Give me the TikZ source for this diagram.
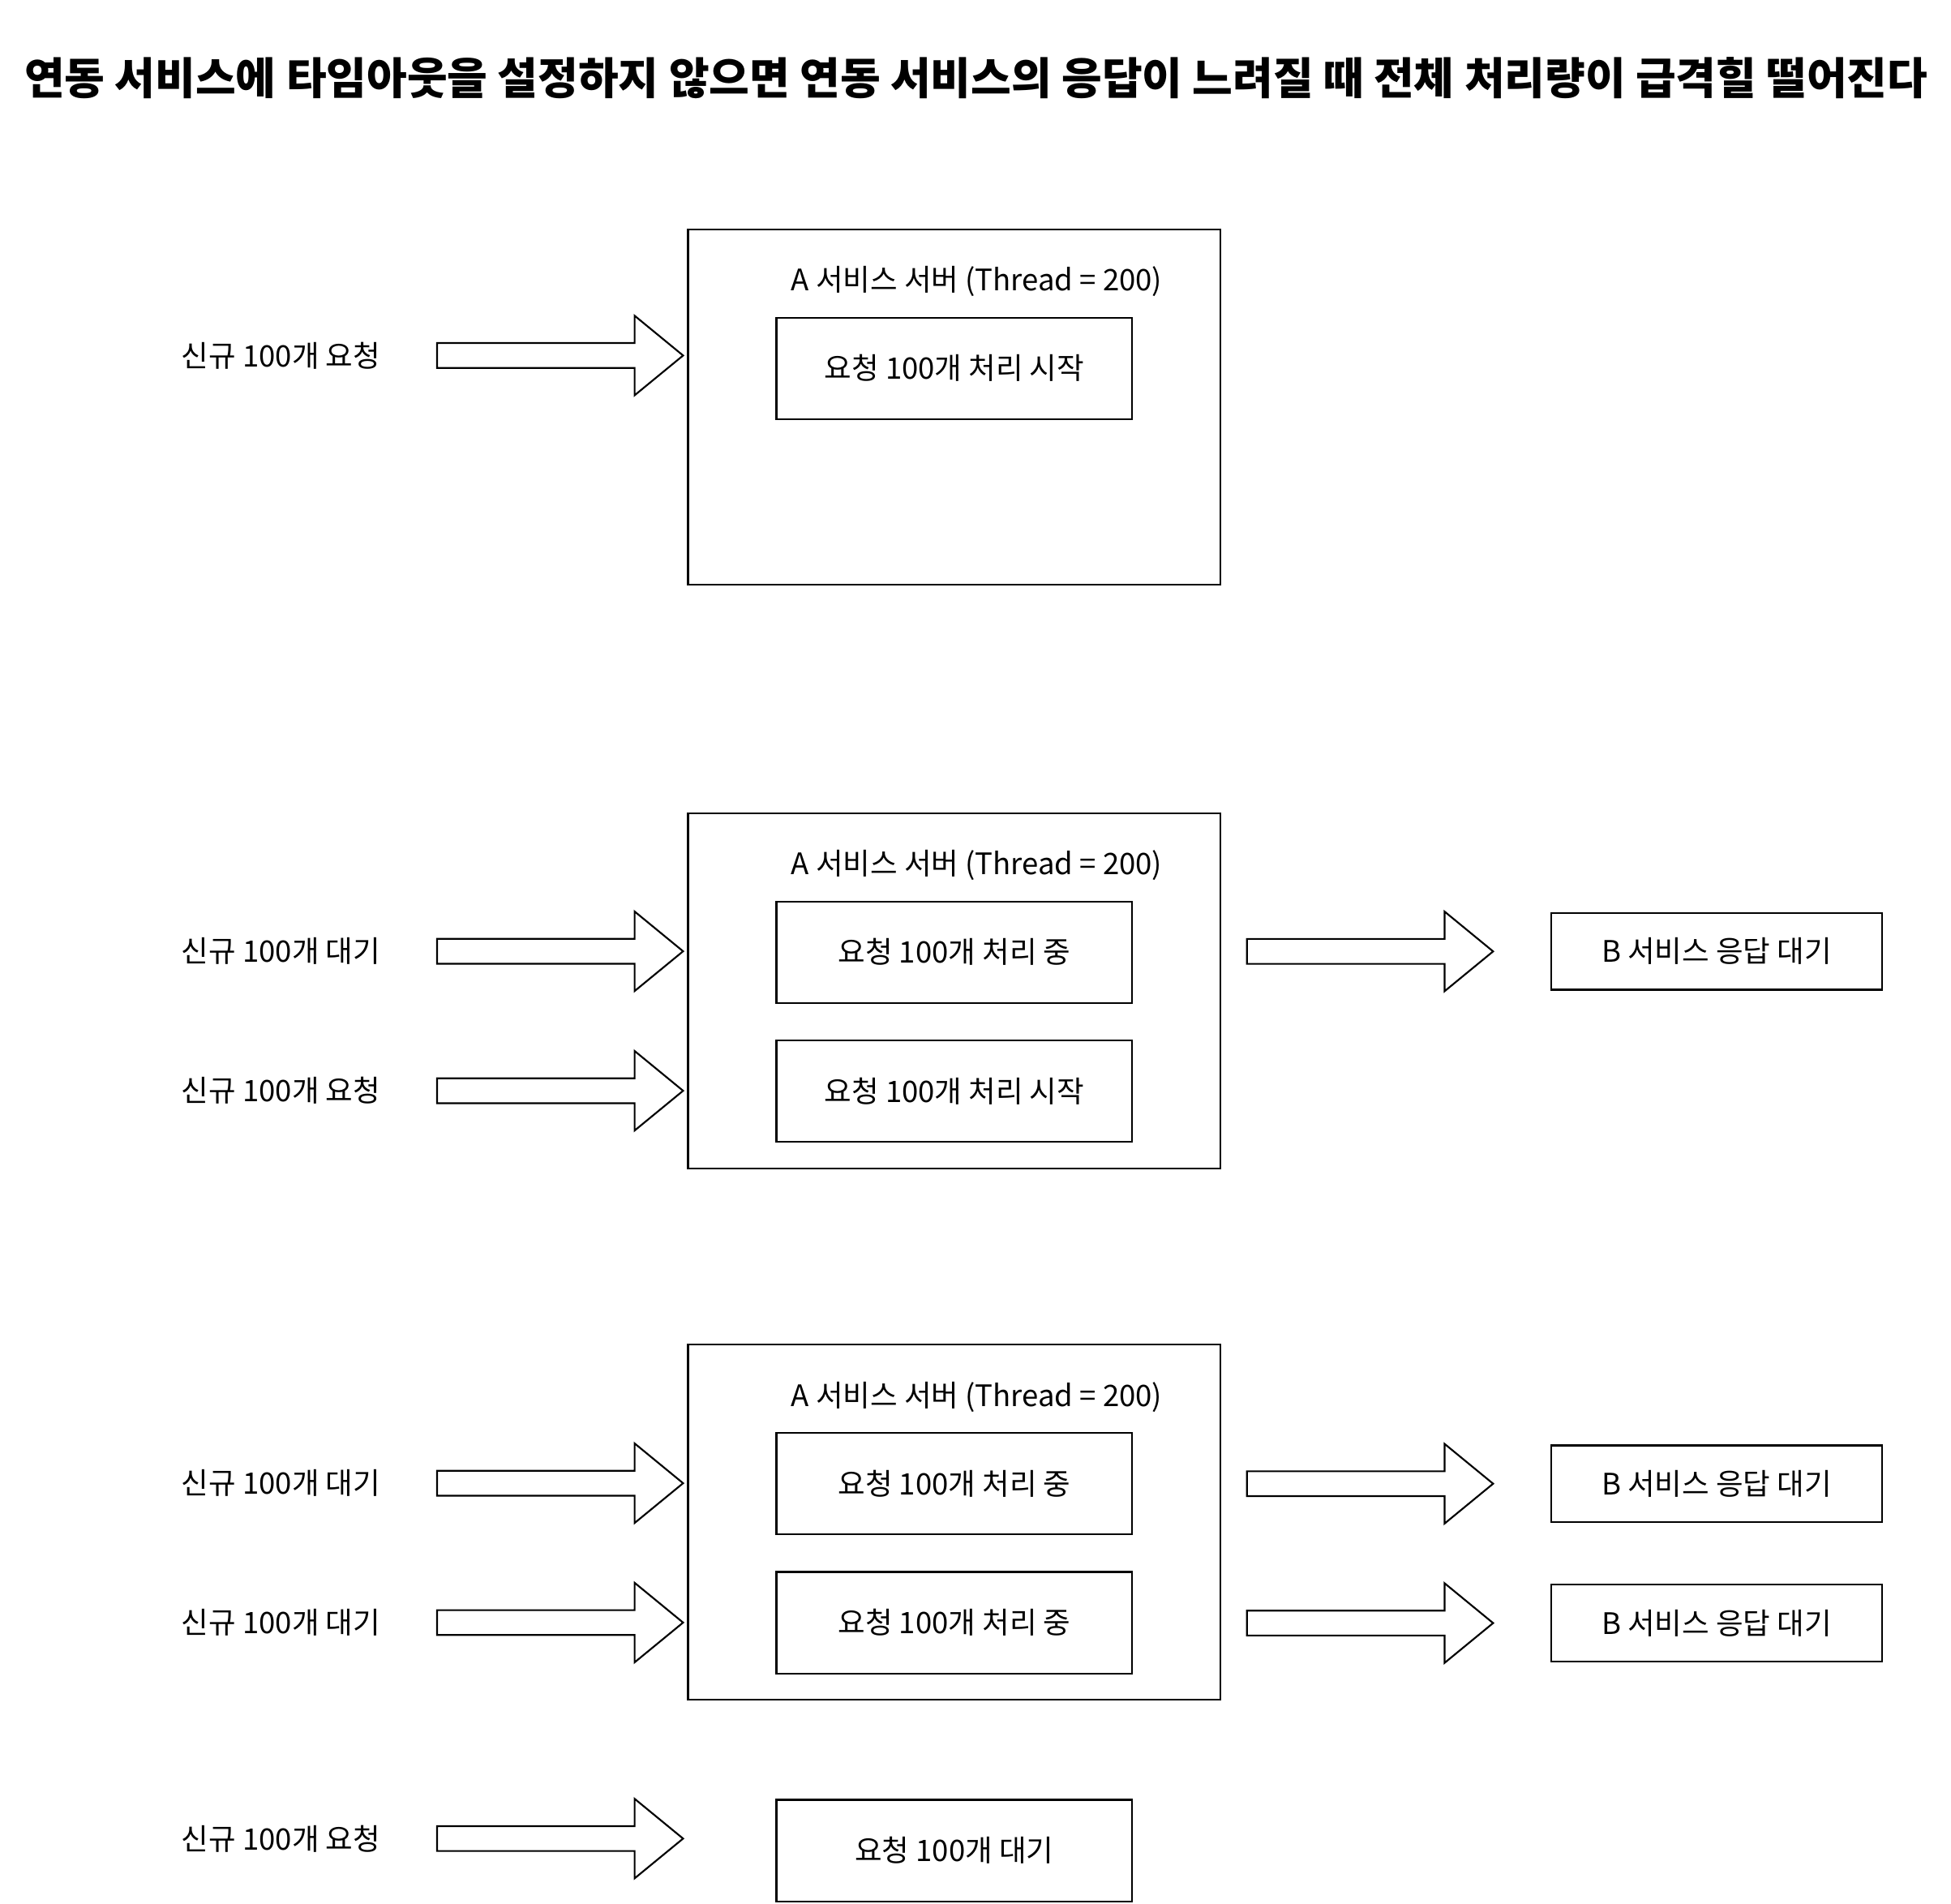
\documentclass[tikz,border=0pt]{standalone}
\usepackage{fontspec}
\setmainfont{Noto Sans CJK KR}
\usetikzlibrary{positioning,calc}

\newcommand{\txtfont}{\fontsize{23.8}{28}\selectfont}
\newcommand{\headfont}{\fontsize{35.2}{41}\selectfont\bfseries}

\tikzset{
  headline/.style={font=\headfont,inner sep=0pt},
  frame/.style={draw,line width=1.4pt,minimum width=428pt,minimum height=285.5pt,inner sep=0pt},
  caption/.style={font=\txtfont,inner sep=0pt},
  job/.style={draw,line width=1.4pt,fill=white,minimum width=286pt,minimum height=81.5pt,inner sep=0pt,font=\txtfont},
  bwait/.style={draw,line width=1.4pt,fill=white,minimum width=266pt,minimum height=61.5pt,inner sep=0pt,font=\txtfont},
  lbl/.style={font=\txtfont,inner sep=0pt},
  fat/.style={draw,line width=1.4pt,fill=white,line join=miter}
}

% block arrow: #1 tail, #2 tip (same height)
\newcommand{\fatarrow}[2]{%
  \coordinate (fa-t) at (#1);
  \coordinate (fa-h) at (#2);
  \draw[fat] ($(fa-t)+(0,-10)$) -- ($(fa-h)+(-39,-10)$) -- ($(fa-h)+(-39,-32)$) -- (fa-h)
    -- ($(fa-h)+(-39,32)$) -- ($(fa-h)+(-39,10)$) -- ($(fa-t)+(0,10)$) -- cycle;}

\begin{document}
\begin{tikzpicture}[x=1pt,y=-1pt]
  \useasboundingbox (0,0) rectangle (1568,1529.6);

  % title
  \node[headline] (title) at (784.5,62.5) {연동 서비스에 타임아웃을 설정하지 않으면 연동 서비스의 응답이 느려질 때 전체 처리량이 급격힐 떨어진다};

  % three snapshots of server A
  \foreach \n/\py in {1/184.2,2/653.5,3/1080.6} {
    \node[frame] (srv\n) at (767,\py+142.75) {};
    \node[caption,anchor=base] (cap\n) at (785,\py+49.5) {A 서비스 서버 (Thread = 200)};
  }

  % jobs held by server A
  \node[job] (j1) at (767,296) {요청 100개 처리 시작};
  \node[job] (j2) at (767,765.2) {요청 100개 처리 중};
  \node[job] (j3) at (767,877) {요청 100개 처리 시작};
  \node[job] (j4) at (767,1192.3) {요청 100개 처리 중};
  \node[job] (j5) at (767,1304.1) {요청 100개 처리 중};
  \node[job] (j6) at (767,1487.2) {요청 100개 대기};

  % incoming requests
  \foreach \n/\py/\s/\txt in {1/285.7/1/요청,2/764.5/2/대기,3/876.6/2/요청,4/1192/3/대기,5/1304/3/대기,6/1477.6/3/요청} {
    \node[lbl] (in\n) at (225.8,\py) {신규 100개 \txt};
    \fatarrow{$(in\n.center)+(125.5,0)$}{$(srv\s.west |- in\n.center)+(-3.3,0)$}
  }

  % calls waiting on service B
  \foreach \n/\py/\s in {1/764.6/2,2/1192.4/3,3/1304.4/3} {
    \node[bwait] (b\n) at (1379.6,\py) {B 서비스 응답 대기};
    \fatarrow{$(srv\s.east |- b\n.center)+(20.4,0)$}{$(b\n.west)+(-45.9,0)$}
  }
\end{tikzpicture}
\end{document}
